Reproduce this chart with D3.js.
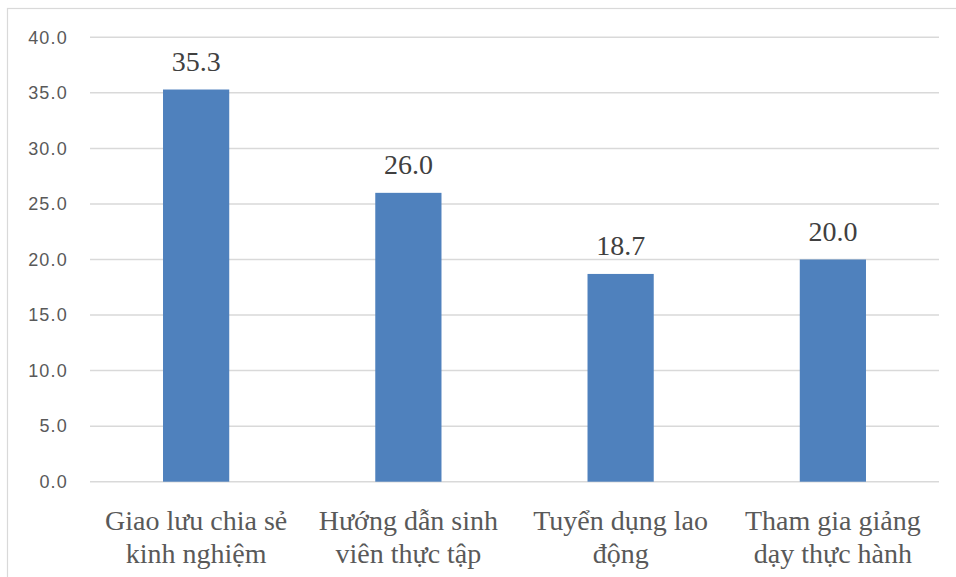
<!DOCTYPE html>
<html>
<head>
<meta charset="utf-8">
<script src="https://cdn.jsdelivr.net/npm/d3@7"></script>
<style>
  html, body { margin: 0; padding: 0; background: #ffffff; }
  svg { display: block; }
</style>
</head>
<body>
<svg id="chart" width="956" height="577"></svg>
<script>
// Category labels (each split into two display lines)
const categories = [
  ["Giao lưu chia sẻ", "kinh nghiệm"],
  ["Hướng dẫn sinh", "viên thực tập"],
  ["Tuyển dụng lao", "động"],
  ["Tham gia giảng", "dạy thực hành"]
];
const values = [35.3, 26.0, 18.7, 20.0];
const yTicks = [0, 5, 10, 15, 20, 25, 30, 35, 40];

const SERIF = '"Liberation Serif", Tinos, serif';
const SANS = '"Liberation Sans", Arimo, sans-serif';

const W = 956, H = 577;
const margin = { left: 90, right: 17, top: 37.3, bottom: H - 481.7 };

const svg = d3.select("#chart");

// outer chart frame
svg.append("rect")
  .attr("x", 7.5).attr("y", 8.5)
  .attr("width", W + 10).attr("height", H + 10)
  .attr("fill", "#ffffff")
  .attr("stroke", "#d9d9d9").attr("stroke-width", 1.2);

const x = d3.scaleBand()
  .domain(categories.map((d, i) => i))
  .range([margin.left, W - margin.right])
  .paddingInner(0.688)
  .paddingOuter(0.344);

const y = d3.scaleLinear()
  .domain([0, 40])
  .range([H - margin.bottom, margin.top]);

// gridlines
svg.append("g")
  .selectAll("line")
  .data(yTicks)
  .join("line")
  .attr("x1", margin.left).attr("x2", W - margin.right)
  .attr("y1", d => y(d)).attr("y2", d => y(d))
  .attr("stroke", "#d9d9d9").attr("stroke-width", 1.5);

// y-axis tick labels
const yAxis = d3.axisLeft(y)
  .tickValues(yTicks)
  .tickFormat(d3.format(".1f"))
  .tickSize(0)
  .tickPadding(0);
const gy = svg.append("g")
  .attr("transform", `translate(68,0)`)
  .call(yAxis);
gy.select(".domain").remove();
gy.selectAll("text")
  .style("font-family", SANS)
  .style("font-size", "18px")
  .style("letter-spacing", "1.2px")
  .attr("fill", "#595959");

// bars
svg.append("g")
  .selectAll("rect")
  .data(values)
  .join("rect")
  .attr("x", (d, i) => x(i))
  .attr("width", x.bandwidth())
  .attr("y", d => y(d))
  .attr("height", d => y(0) - y(d))
  .attr("fill", "#4f81bd");

// value labels
svg.append("g")
  .selectAll("text")
  .data(values)
  .join("text")
  .attr("x", (d, i) => x(i) + x.bandwidth() / 2)
  .attr("y", d => y(d) - 19)
  .attr("text-anchor", "middle")
  .style("font-family", SERIF)
  .style("font-size", "28px")
  .attr("fill", "#404040")
  .text(d => d.toFixed(1));

// category labels
const cat = svg.append("g")
  .selectAll("text")
  .data(categories)
  .join("text")
  .attr("text-anchor", "middle")
  .style("font-family", SERIF)
  .style("font-size", "28px")
  .attr("fill", "#595959");
cat.each(function(lines, i) {
  const cx = x(i) + x.bandwidth() / 2;
  d3.select(this).selectAll("tspan")
    .data(lines)
    .join("tspan")
    .attr("x", cx)
    .attr("y", (d, j) => 530 + j * 33)
    .text(d => d);
});
</script>
</body>
</html>
